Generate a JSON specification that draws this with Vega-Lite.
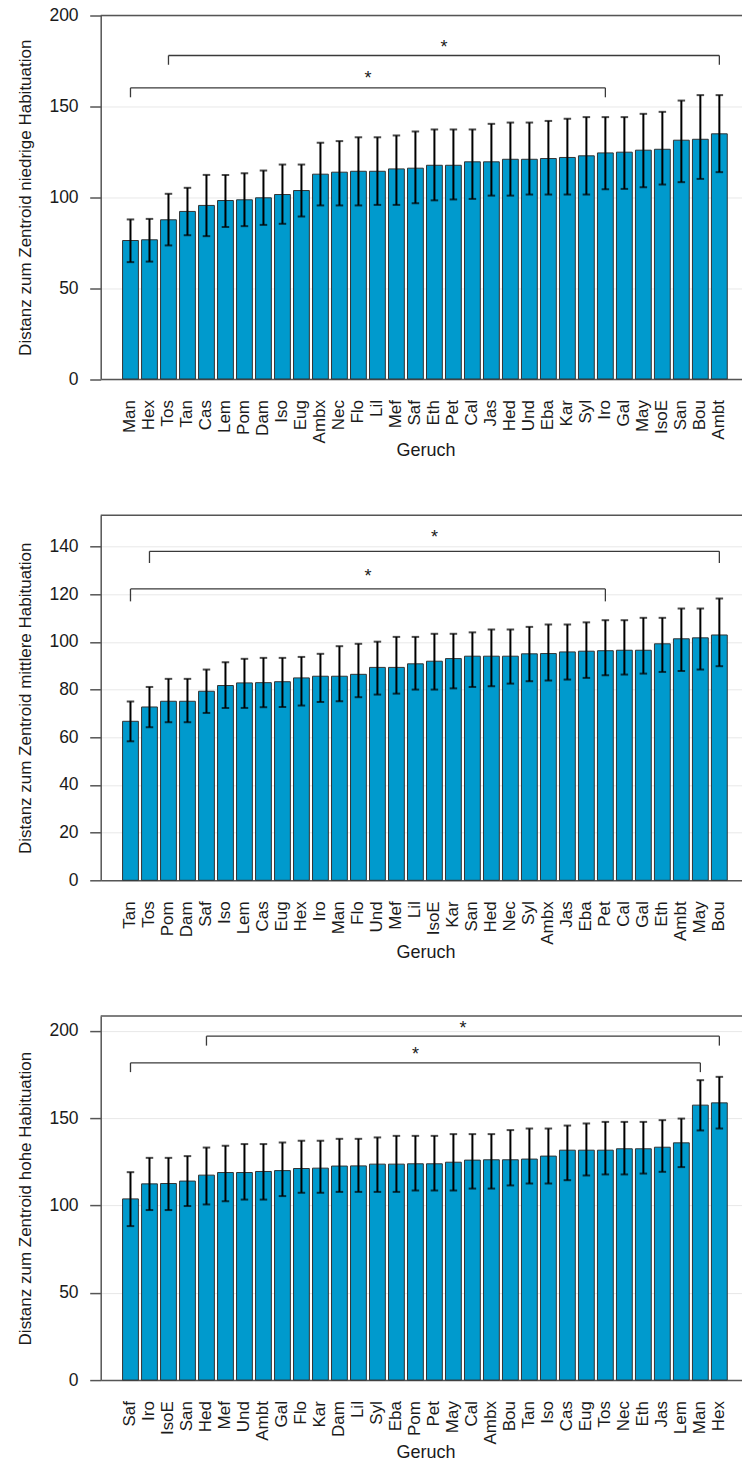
{
  "$schema": "https://vega.github.io/schema/vega-lite/v6.json",
  "padding": {"left": 15.7, "top": 6.5, "right": 0, "bottom": 0},
  "spacing": 53.8,
  "config": {
    "font": "Liberation Sans",
    "view": {"stroke": null},
    "axis": {"labelColor": "#1a1a1a", "titleColor": "#1a1a1a", "titleFontWeight": "normal", "domainColor": "#555555", "tickColor": "#555555"}
  },
  "datasets": {
    "b1": [
      {"g": "Man", "m": 76.2, "lo": 64.3, "hi": 87.8},
      {"g": "Hex", "m": 76.6, "lo": 64.6, "hi": 88.1},
      {"g": "Tos", "m": 87.6, "lo": 73.5, "hi": 101.9},
      {"g": "Tan", "m": 92.2, "lo": 79.1, "hi": 105.2},
      {"g": "Cas", "m": 95.5, "lo": 78.6, "hi": 112.3},
      {"g": "Lem", "m": 98.2, "lo": 83.7, "hi": 112.3},
      {"g": "Pom", "m": 98.6, "lo": 84.1, "hi": 113.2},
      {"g": "Dam", "m": 99.7, "lo": 84.8, "hi": 114.7},
      {"g": "Iso", "m": 101.5, "lo": 85.4, "hi": 118.0},
      {"g": "Eug", "m": 103.7, "lo": 89.4, "hi": 118.0},
      {"g": "Ambx", "m": 112.7, "lo": 95.5, "hi": 130.0},
      {"g": "Nec", "m": 113.8, "lo": 95.5, "hi": 130.9},
      {"g": "Flo", "m": 114.3, "lo": 95.5, "hi": 133.0},
      {"g": "Lil", "m": 114.3, "lo": 95.8, "hi": 133.0},
      {"g": "Mef", "m": 115.6, "lo": 95.8, "hi": 134.0},
      {"g": "Saf", "m": 116.0, "lo": 96.7, "hi": 136.2},
      {"g": "Eth", "m": 117.6, "lo": 98.3, "hi": 137.3},
      {"g": "Pet", "m": 117.6, "lo": 98.8, "hi": 137.3},
      {"g": "Cal", "m": 119.5, "lo": 99.1, "hi": 137.3},
      {"g": "Jas", "m": 119.5, "lo": 100.9, "hi": 140.4},
      {"g": "Hed", "m": 120.9, "lo": 100.9, "hi": 141.1},
      {"g": "Und", "m": 120.9, "lo": 101.5, "hi": 141.1},
      {"g": "Eba", "m": 121.3, "lo": 101.5, "hi": 142.0},
      {"g": "Kar", "m": 121.9, "lo": 101.5, "hi": 143.2},
      {"g": "Syl", "m": 122.8, "lo": 101.5, "hi": 144.1},
      {"g": "Iro", "m": 124.4, "lo": 104.4, "hi": 144.1},
      {"g": "Gal", "m": 124.8, "lo": 104.6, "hi": 144.1},
      {"g": "May", "m": 125.9, "lo": 105.5, "hi": 145.9},
      {"g": "IsoE", "m": 126.4, "lo": 107.0, "hi": 147.0},
      {"g": "San", "m": 131.4, "lo": 108.3, "hi": 153.2},
      {"g": "Bou", "m": 131.9, "lo": 110.1, "hi": 156.2},
      {"g": "Ambt", "m": 134.9, "lo": 113.8, "hi": 156.2}
    ],
    "k1": [
      {"g": "Tos", "g2": "Ambt", "lo": 178.0, "hi": 178.0},
      {"g": "Tos", "g2": "Tos", "lo": 172.9, "hi": 178.0},
      {"g": "Ambt", "g2": "Ambt", "lo": 172.9, "hi": 178.0},
      {"g": "Man", "g2": "Iro", "lo": 160.2, "hi": 160.2},
      {"g": "Man", "g2": "Man", "lo": 155.0, "hi": 160.2},
      {"g": "Iro", "g2": "Iro", "lo": 155.0, "hi": 160.2}
    ],
    "s1": [
      {"g": "Eth", "m": 185.3, "half": true},
      {"g": "Flo", "m": 167.9, "half": true}
    ],
    "b2": [
      {"g": "Tan", "m": 66.7, "lo": 58.3, "hi": 75.0},
      {"g": "Tos", "m": 72.7, "lo": 64.2, "hi": 81.1},
      {"g": "Pom", "m": 75.1, "lo": 66.3, "hi": 84.5},
      {"g": "Dam", "m": 75.1, "lo": 66.3, "hi": 84.5},
      {"g": "Saf", "m": 79.3, "lo": 70.2, "hi": 88.4},
      {"g": "Iso", "m": 81.7, "lo": 72.3, "hi": 91.5},
      {"g": "Lem", "m": 82.8, "lo": 72.3, "hi": 92.9},
      {"g": "Cas", "m": 82.9, "lo": 72.6, "hi": 93.3},
      {"g": "Eug", "m": 83.3, "lo": 72.7, "hi": 93.3},
      {"g": "Hex", "m": 84.9, "lo": 73.3, "hi": 93.7},
      {"g": "Iro", "m": 85.6, "lo": 74.8, "hi": 95.0},
      {"g": "Man", "m": 85.6, "lo": 75.1, "hi": 98.2},
      {"g": "Flo", "m": 86.4, "lo": 76.8, "hi": 99.2},
      {"g": "Und", "m": 89.3, "lo": 77.9, "hi": 100.1},
      {"g": "Mef", "m": 89.3, "lo": 78.3, "hi": 102.1},
      {"g": "Lil", "m": 90.8, "lo": 80.0, "hi": 102.1},
      {"g": "IsoE", "m": 91.9, "lo": 80.0, "hi": 103.4},
      {"g": "Kar", "m": 93.0, "lo": 80.5, "hi": 103.4},
      {"g": "San", "m": 94.0, "lo": 81.1, "hi": 104.0},
      {"g": "Hed", "m": 94.0, "lo": 81.4, "hi": 105.2},
      {"g": "Nec", "m": 94.0, "lo": 82.5, "hi": 105.2},
      {"g": "Syl", "m": 95.0, "lo": 83.5, "hi": 106.3},
      {"g": "Ambx", "m": 95.1, "lo": 83.8, "hi": 107.3},
      {"g": "Jas", "m": 95.8, "lo": 84.2, "hi": 107.3},
      {"g": "Eba", "m": 96.1, "lo": 84.9, "hi": 108.2},
      {"g": "Pet", "m": 96.3, "lo": 86.0, "hi": 109.1},
      {"g": "Cal", "m": 96.5, "lo": 86.3, "hi": 109.1},
      {"g": "Gal", "m": 96.5, "lo": 86.7, "hi": 110.1},
      {"g": "Eth", "m": 99.2, "lo": 87.4, "hi": 110.1},
      {"g": "Ambt", "m": 101.3, "lo": 87.8, "hi": 114.0},
      {"g": "May", "m": 101.7, "lo": 88.4, "hi": 114.0},
      {"g": "Bou", "m": 102.9, "lo": 89.8, "hi": 118.2}
    ],
    "k2": [
      {"g": "Tos", "g2": "Bou", "lo": 138.0, "hi": 138.0},
      {"g": "Tos", "g2": "Tos", "lo": 133.1, "hi": 138.0},
      {"g": "Bou", "g2": "Bou", "lo": 133.1, "hi": 138.0},
      {"g": "Tan", "g2": "Pet", "lo": 122.2, "hi": 122.2},
      {"g": "Tan", "g2": "Tan", "lo": 117.0, "hi": 122.2},
      {"g": "Pet", "g2": "Pet", "lo": 117.0, "hi": 122.2}
    ],
    "s2": [
      {"g": "IsoE", "m": 145.7, "half": false},
      {"g": "Flo", "m": 129.6, "half": true}
    ],
    "b3": [
      {"g": "Saf", "m": 103.8, "lo": 88.2, "hi": 119.1},
      {"g": "Iro", "m": 112.4, "lo": 97.4, "hi": 127.3},
      {"g": "IsoE", "m": 112.6, "lo": 97.4, "hi": 127.3},
      {"g": "San", "m": 114.0, "lo": 99.7, "hi": 128.3},
      {"g": "Hed", "m": 117.4, "lo": 100.6, "hi": 133.2},
      {"g": "Mef", "m": 118.9, "lo": 102.5, "hi": 134.2},
      {"g": "Und", "m": 118.9, "lo": 103.4, "hi": 135.2},
      {"g": "Ambt", "m": 119.5, "lo": 103.4, "hi": 135.2},
      {"g": "Gal", "m": 120.0, "lo": 105.4, "hi": 136.1},
      {"g": "Flo", "m": 121.2, "lo": 107.3, "hi": 137.1},
      {"g": "Kar", "m": 121.4, "lo": 107.3, "hi": 137.1},
      {"g": "Dam", "m": 122.6, "lo": 107.8, "hi": 138.2},
      {"g": "Lil", "m": 122.7, "lo": 107.8, "hi": 138.2},
      {"g": "Syl", "m": 123.7, "lo": 107.8, "hi": 139.0},
      {"g": "Eba", "m": 123.7, "lo": 107.8, "hi": 139.9},
      {"g": "Pom", "m": 123.9, "lo": 108.6, "hi": 139.9},
      {"g": "Pet", "m": 123.9, "lo": 108.6, "hi": 139.9},
      {"g": "May", "m": 124.8, "lo": 108.6, "hi": 140.9},
      {"g": "Cal", "m": 126.0, "lo": 109.7, "hi": 140.9},
      {"g": "Ambx", "m": 126.2, "lo": 109.7, "hi": 140.9},
      {"g": "Bou", "m": 126.2, "lo": 111.5, "hi": 143.2},
      {"g": "Tan", "m": 126.6, "lo": 112.6, "hi": 144.1},
      {"g": "Iso", "m": 128.3, "lo": 112.6, "hi": 144.1},
      {"g": "Cas", "m": 131.7, "lo": 114.5, "hi": 145.8},
      {"g": "Eug", "m": 131.7, "lo": 117.2, "hi": 147.0},
      {"g": "Tos", "m": 131.7, "lo": 117.8, "hi": 147.9},
      {"g": "Nec", "m": 132.5, "lo": 117.8, "hi": 147.9},
      {"g": "Eth", "m": 132.5, "lo": 118.3, "hi": 147.9},
      {"g": "Jas", "m": 133.4, "lo": 119.3, "hi": 148.9},
      {"g": "Lem", "m": 135.9, "lo": 122.0, "hi": 149.8},
      {"g": "Man", "m": 157.5, "lo": 143.0, "hi": 171.8},
      {"g": "Hex", "m": 158.8, "lo": 144.1, "hi": 173.7}
    ],
    "k3": [
      {"g": "Hed", "g2": "Hex", "lo": 197.0, "hi": 197.0},
      {"g": "Hed", "g2": "Hed", "lo": 191.6, "hi": 197.0},
      {"g": "Hex", "g2": "Hex", "lo": 191.6, "hi": 197.0},
      {"g": "Saf", "g2": "Man", "lo": 181.7, "hi": 181.7},
      {"g": "Saf", "g2": "Saf", "lo": 176.4, "hi": 181.7},
      {"g": "Man", "g2": "Man", "lo": 176.4, "hi": 181.7}
    ],
    "s3": [
      {"g": "May", "m": 204.1, "half": true},
      {"g": "Pom", "m": 189.3, "half": false}
    ]
  },
  "vconcat": [
    {
      "width": 642.7,
      "height": 363.5,
      "layer": [
        {
          "data": {"name": "b1"},
          "mark": {"type": "bar", "fill": "#009ACD", "stroke": "#333333", "strokeWidth": 1},
          "encoding": {
            "x": {"field": "g", "type": "nominal",
              "scale": {"domain": ["Man","Hex","Tos","Tan","Cas","Lem","Pom","Dam","Iso","Eug","Ambx","Nec","Flo","Lil","Mef","Saf","Eth","Pet","Cal","Jas","Hed","Und","Eba","Kar","Syl","Iro","Gal","May","IsoE","San","Bou","Ambt"], "paddingInner": 0.1667, "paddingOuter": 1.0958, "align": 0.5756, "round": false},
              "axis": {"title": "Geruch", "labelAngle": 270, "labelAlign": "right", "labelBaseline": "middle", "labelPadding": 20.5, "ticks": false, "tickSize": 0, "labelFontSize": 17, "titleFontSize": 18, "titlePadding": -1, "titleX": 324.7, "domainWidth": 1.5, "labelOverlap": false, "grid": false}},
            "y": {"field": "m", "type": "quantitative",
              "scale": {"domain": [0, 200], "nice": false},
              "axis": {"title": "Distanz zum Zentroid niedrige Habituation", "values": [0, 50, 100, 150, 200], "tickSize": 11, "tickWidth": 1.5, "domainWidth": 1.5, "labelPadding": 11.6, "labelFontSize": 17.5, "titleFontSize": 17, "titlePadding": 14.8, "grid": true, "gridColor": "#e8e8e8", "gridWidth": 1}}
          }
        },
        {
          "data": {"name": "b1"},
          "mark": {"type": "rule", "color": "#000000", "strokeWidth": 2},
          "encoding": {"x": {"field": "g", "type": "nominal"}, "y": {"field": "lo", "type": "quantitative"}, "y2": {"field": "hi"}}
        },
        {
          "data": {"name": "b1"},
          "mark": {"type": "tick", "color": "#000000", "size": 7.5, "thickness": 2},
          "encoding": {"x": {"field": "g", "type": "nominal"}, "y": {"field": "lo", "type": "quantitative"}}
        },
        {
          "data": {"name": "b1"},
          "mark": {"type": "tick", "color": "#000000", "size": 7.5, "thickness": 2},
          "encoding": {"x": {"field": "g", "type": "nominal"}, "y": {"field": "hi", "type": "quantitative"}}
        },
        {
          "data": {"name": "k1"},
          "mark": {"type": "rule", "color": "#3a3a3a", "strokeWidth": 1.3},
          "encoding": {"x": {"field": "g", "type": "nominal", "bandPosition": 0.5}, "x2": {"field": "g2"}, "y": {"field": "lo", "type": "quantitative"}, "y2": {"field": "hi"}}
        },
        {
          "data": {"name": "s1"},
          "transform": [{"filter": "datum.half"}],
          "mark": {"type": "text", "text": "*", "fontSize": 18, "baseline": "alphabetic", "dy": 10.4, "color": "#1a1a1a"},
          "encoding": {"x": {"field": "g", "type": "nominal", "bandPosition": 1.1}, "y": {"field": "m", "type": "quantitative"}}
        },
        {
          "data": {"values": [{}]},
          "mark": {"type": "rule", "color": "#555555", "strokeWidth": 1.5},
          "encoding": {"y": {"datum": 200}}
        }
      ]
    },
    {
      "width": 642.7,
      "height": 365,
      "layer": [
        {
          "data": {"name": "b2"},
          "mark": {"type": "bar", "fill": "#009ACD", "stroke": "#333333", "strokeWidth": 1},
          "encoding": {
            "x": {"field": "g", "type": "nominal",
              "scale": {"domain": ["Tan","Tos","Pom","Dam","Saf","Iso","Lem","Cas","Eug","Hex","Iro","Man","Flo","Und","Mef","Lil","IsoE","Kar","San","Hed","Nec","Syl","Ambx","Jas","Eba","Pet","Cal","Gal","Eth","Ambt","May","Bou"], "paddingInner": 0.1667, "paddingOuter": 1.0958, "align": 0.5756, "round": false},
              "axis": {"title": "Geruch", "labelAngle": 270, "labelAlign": "right", "labelBaseline": "middle", "labelPadding": 20.5, "ticks": false, "tickSize": 0, "labelFontSize": 17, "titleFontSize": 18, "titlePadding": -1, "titleX": 324.7, "domainWidth": 1.5, "labelOverlap": false, "grid": false}},
            "y": {"field": "m", "type": "quantitative",
              "scale": {"domain": [0, 153.1], "nice": false},
              "axis": {"title": "Distanz zum Zentroid mittlere Habituation", "values": [0, 20, 40, 60, 80, 100, 120, 140], "tickSize": 11, "tickWidth": 1.5, "domainWidth": 1.5, "labelPadding": 11.6, "labelFontSize": 17.5, "titleFontSize": 17, "titlePadding": 14.8, "grid": true, "gridColor": "#e8e8e8", "gridWidth": 1}}
          }
        },
        {
          "data": {"name": "b2"},
          "mark": {"type": "rule", "color": "#000000", "strokeWidth": 2},
          "encoding": {"x": {"field": "g", "type": "nominal"}, "y": {"field": "lo", "type": "quantitative"}, "y2": {"field": "hi"}}
        },
        {
          "data": {"name": "b2"},
          "mark": {"type": "tick", "color": "#000000", "size": 7.5, "thickness": 2},
          "encoding": {"x": {"field": "g", "type": "nominal"}, "y": {"field": "lo", "type": "quantitative"}}
        },
        {
          "data": {"name": "b2"},
          "mark": {"type": "tick", "color": "#000000", "size": 7.5, "thickness": 2},
          "encoding": {"x": {"field": "g", "type": "nominal"}, "y": {"field": "hi", "type": "quantitative"}}
        },
        {
          "data": {"name": "k2"},
          "mark": {"type": "rule", "color": "#3a3a3a", "strokeWidth": 1.3},
          "encoding": {"x": {"field": "g", "type": "nominal", "bandPosition": 0.5}, "x2": {"field": "g2"}, "y": {"field": "lo", "type": "quantitative"}, "y2": {"field": "hi"}}
        },
        {
          "data": {"name": "s2"},
          "transform": [{"filter": "datum.half"}],
          "mark": {"type": "text", "text": "*", "fontSize": 18, "baseline": "alphabetic", "dy": 10.4, "color": "#1a1a1a"},
          "encoding": {"x": {"field": "g", "type": "nominal", "bandPosition": 1.1}, "y": {"field": "m", "type": "quantitative"}}
        },
        {
          "data": {"name": "s2"},
          "transform": [{"filter": "!datum.half"}],
          "mark": {"type": "text", "text": "*", "fontSize": 18, "baseline": "alphabetic", "dy": 10.4, "color": "#1a1a1a"},
          "encoding": {"x": {"field": "g", "type": "nominal", "bandPosition": 0.5}, "y": {"field": "m", "type": "quantitative"}}
        },
        {
          "data": {"values": [{}]},
          "mark": {"type": "rule", "color": "#555555", "strokeWidth": 1.5},
          "encoding": {"y": {"datum": 153.1}}
        }
      ]
    },
    {
      "width": 642.7,
      "height": 364,
      "layer": [
        {
          "data": {"name": "b3"},
          "mark": {"type": "bar", "fill": "#009ACD", "stroke": "#333333", "strokeWidth": 1},
          "encoding": {
            "x": {"field": "g", "type": "nominal",
              "scale": {"domain": ["Saf","Iro","IsoE","San","Hed","Mef","Und","Ambt","Gal","Flo","Kar","Dam","Lil","Syl","Eba","Pom","Pet","May","Cal","Ambx","Bou","Tan","Iso","Cas","Eug","Tos","Nec","Eth","Jas","Lem","Man","Hex"], "paddingInner": 0.1667, "paddingOuter": 1.0958, "align": 0.5756, "round": false},
              "axis": {"title": "Geruch", "labelAngle": 270, "labelAlign": "right", "labelBaseline": "middle", "labelPadding": 20.5, "ticks": false, "tickSize": 0, "labelFontSize": 17, "titleFontSize": 18, "titlePadding": -1, "titleX": 324.7, "domainWidth": 1.5, "labelOverlap": false, "grid": false}},
            "y": {"field": "m", "type": "quantitative",
              "scale": {"domain": [0, 208.5], "nice": false},
              "axis": {"title": "Distanz zum Zentroid hohe Habituation", "values": [0, 50, 100, 150, 200], "tickSize": 11, "tickWidth": 1.5, "domainWidth": 1.5, "labelPadding": 11.6, "labelFontSize": 17.5, "titleFontSize": 17, "titlePadding": 14.8, "grid": true, "gridColor": "#e8e8e8", "gridWidth": 1}}
          }
        },
        {
          "data": {"name": "b3"},
          "mark": {"type": "rule", "color": "#000000", "strokeWidth": 2},
          "encoding": {"x": {"field": "g", "type": "nominal"}, "y": {"field": "lo", "type": "quantitative"}, "y2": {"field": "hi"}}
        },
        {
          "data": {"name": "b3"},
          "mark": {"type": "tick", "color": "#000000", "size": 7.5, "thickness": 2},
          "encoding": {"x": {"field": "g", "type": "nominal"}, "y": {"field": "lo", "type": "quantitative"}}
        },
        {
          "data": {"name": "b3"},
          "mark": {"type": "tick", "color": "#000000", "size": 7.5, "thickness": 2},
          "encoding": {"x": {"field": "g", "type": "nominal"}, "y": {"field": "hi", "type": "quantitative"}}
        },
        {
          "data": {"name": "k3"},
          "mark": {"type": "rule", "color": "#3a3a3a", "strokeWidth": 1.3},
          "encoding": {"x": {"field": "g", "type": "nominal", "bandPosition": 0.5}, "x2": {"field": "g2"}, "y": {"field": "lo", "type": "quantitative"}, "y2": {"field": "hi"}}
        },
        {
          "data": {"name": "s3"},
          "transform": [{"filter": "datum.half"}],
          "mark": {"type": "text", "text": "*", "fontSize": 18, "baseline": "alphabetic", "dy": 10.4, "color": "#1a1a1a"},
          "encoding": {"x": {"field": "g", "type": "nominal", "bandPosition": 1.1}, "y": {"field": "m", "type": "quantitative"}}
        },
        {
          "data": {"name": "s3"},
          "transform": [{"filter": "!datum.half"}],
          "mark": {"type": "text", "text": "*", "fontSize": 18, "baseline": "alphabetic", "dy": 10.4, "color": "#1a1a1a"},
          "encoding": {"x": {"field": "g", "type": "nominal", "bandPosition": 0.5}, "y": {"field": "m", "type": "quantitative"}}
        },
        {
          "data": {"values": [{}]},
          "mark": {"type": "rule", "color": "#555555", "strokeWidth": 1.5},
          "encoding": {"y": {"datum": 208.5}}
        }
      ]
    }
  ]
}
